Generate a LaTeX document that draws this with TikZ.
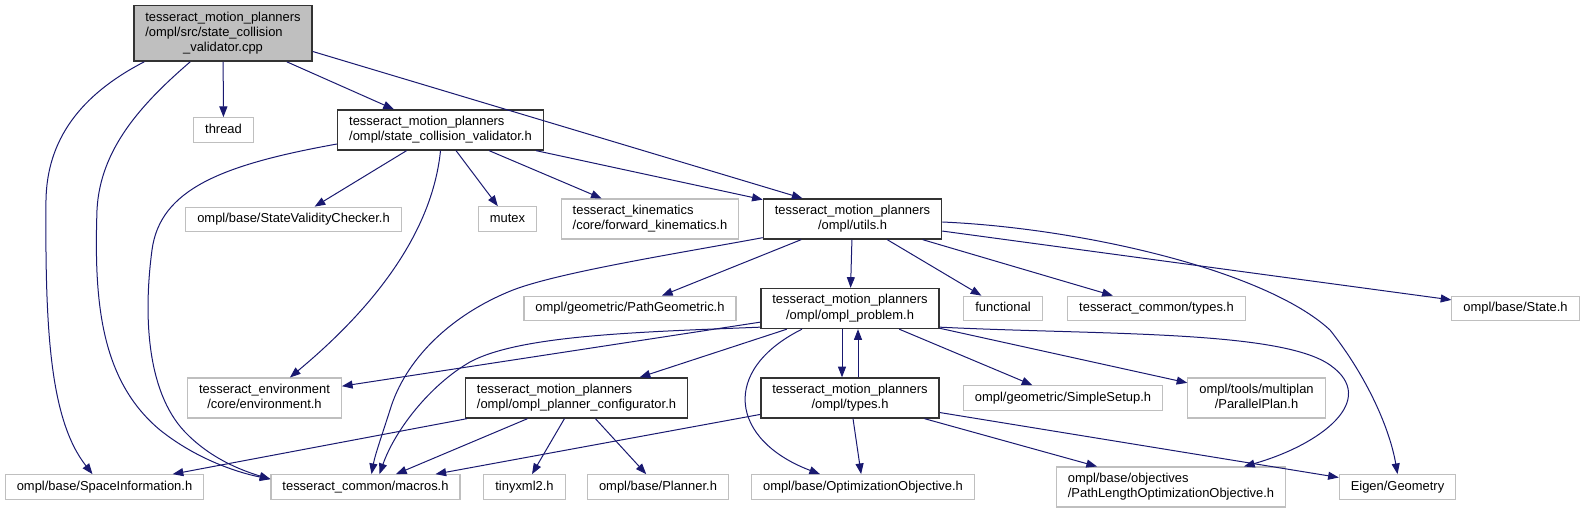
\documentclass[tikz,border=0pt]{standalone}
\usepackage{fontspec}
\setmainfont{Liberation Sans}
\usetikzlibrary{calc, arrows.meta}
\definecolor{edgeBlue}{HTML}{191970}
\definecolor{boxGrey}{HTML}{BFBFBF}
\newcommand{\twol}[2]{\begin{tabular}{@{}l@{}}#1\\\multicolumn{1}{@{}c@{}}{#2}\end{tabular}}
\newcommand{\threel}[3]{\begin{tabular}{@{}l@{}}#1\\#2\\\multicolumn{1}{@{}c@{}}{#3}\end{tabular}}

\begin{document}
\begin{tikzpicture}[
  x=0.75pt, y=-0.75pt,
  font=\fontsize{9.7pt}{11.5pt}\selectfont,
  sysfile/.style={draw=boxGrey, line width=0.8pt, fill=white, inner xsep=8.6pt, inner ysep=3.5pt},
  docfile/.style={sysfile, draw=black!80, line width=1pt},
  one/.style={text height=8.05pt, text depth=3.45pt},
  dep/.style={edgeBlue, line width=0.75pt, -{Triangle[length=8pt, width=6pt]}},
]
\useasboundingbox (0,0) rectangle (1584,513);

% --- Files, one row per rank --------------------------------------
\node[docfile, fill=boxGrey] (root) at (223,33.5) {\threel{tesseract\_motion\_planners}{/ompl/src/state\_collision}{\_validator.cpp}};

\node[sysfile, one] (thread) at (223.5,130) {thread};
\node[docfile] (scvh) at (440.5,130) {\twol{tesseract\_motion\_planners}{/ompl/state\_collision\_validator.h}};

\node[sysfile, one] (svc) at (293.5,219.5) {ompl/base/StateValidityChecker.h};
\node[sysfile, one] (mutex) at (507.5,219) {mutex};
\node[sysfile] (kin) at (650,219) {\twol{tesseract\_kinematics}{/core/forward\_kinematics.h}};
\node[docfile] (utils) at (852.5,219) {\twol{tesseract\_motion\_planners}{/ompl/utils.h}};

\node[sysfile, one] (pathgeo) at (630,308.5) {ompl/geometric/PathGeometric.h};
\node[docfile] (problem) at (850,308.5) {\twol{tesseract\_motion\_planners}{/ompl/ompl\_problem.h}};
\node[sysfile, one] (functional) at (1003,308.5) {functional};
\node[sysfile, one] (ctypes) at (1156.5,308.5) {tesseract\_common/types.h};
\node[sysfile, one] (state) at (1515.5,308.5) {ompl/base/State.h};

\node[sysfile] (env) at (264.5,398) {\twol{tesseract\_environment}{/core/environment.h}};
\node[docfile] (config) at (576.5,398) {\twol{tesseract\_motion\_planners}{/ompl/ompl\_planner\_configurator.h}};
\node[docfile] (otypes) at (850,398) {\twol{tesseract\_motion\_planners}{/ompl/types.h}};
\node[sysfile, one] (simple) at (1063,398) {ompl/geometric/SimpleSetup.h};
\node[sysfile] (parallel) at (1256.5,398) {\twol{ompl/tools/multiplan}{/ParallelPlan.h}};

\node[sysfile, one] (sinfo) at (104.5,487) {ompl/base/SpaceInformation.h};
\node[sysfile, one] (macros) at (365.5,487) {tesseract\_common/macros.h};
\node[sysfile, one] (tiny) at (524.5,487) {tinyxml2.h};
\node[sysfile, one] (planner) at (658,487) {ompl/base/Planner.h};
\node[sysfile, one] (optobj) at (863,487) {ompl/base/OptimizationObjective.h};
\node[sysfile] (pathlen) at (1171,487) {\twol{ompl/base/objectives}{/PathLengthOptimizationObjective.h}};
\node[sysfile, one] (eigen) at (1397.5,487) {Eigen/Geometry};

% --- Includes of the .cpp ------------------------------------------
\draw[dep] ($(root.south west)+(11,0)$) .. controls (80,95) and (47,140) .. (46,200) .. controls (45,330) and (50,420) .. ($(sinfo.north)+(-12,0)$);
\draw[dep] ($(root.south west)+(57,0)$) .. controls (140,105) and (100,150) .. (97,210) .. controls (94,300) and (100,380) .. (160,430) .. controls (195,458) and (235,472) .. ($(macros.north west)+(0,5)$);
\draw[dep] (root) -- (thread);
\draw[dep] (root) -- (scvh);
\draw[dep] ($(root.east)+(0,18)$) -- ($(utils.north)+(-50,0)$);

% --- state_collision_validator.h -----------------------------------
\draw[dep] ($(scvh.west)+(0,14)$) .. controls (220,165) and (160,190) .. (152,250) .. controls (144,310) and (145,390) .. (185,432) .. controls (210,458) and (240,470) .. ($(macros.north west)+(0,5)$);
\draw[dep] (scvh) -- (svc);
\draw[dep] (scvh.south) .. controls (434,215) and (395,290) .. ($(env.north east)+(-52,0)$);
\draw[dep] (scvh) -- (mutex);
\draw[dep] (scvh) -- (kin);
\draw[dep] (scvh) -- (utils);

% --- utils.h -------------------------------------------------------
\draw[dep] ($(utils.south west)+(0,-2)$) .. controls (680,253) and (560,272) .. (513,290) .. controls (450,315) and (405,360) .. (390,410) .. controls (382,435) and (375,455) .. ($(macros.north)+(6,0)$);
\draw[dep] (utils) -- (pathgeo);
\draw[dep] (utils) -- (problem);
\draw[dep] (utils) -- (functional);
\draw[dep] (utils) -- (ctypes);
\draw[dep] (utils) -- (state);
\draw[dep] ($(utils.east)+(0,3)$) .. controls (1080,228) and (1265,270) .. (1330,330) .. controls (1368,378) and (1390,430) .. (eigen.north);

% --- ompl_problem.h ------------------------------------------------
\draw[dep] (problem) -- (env);
\draw[dep] ($(problem.south west)+(0,-2)$) .. controls (640,332) and (520,335) .. (470,362) .. controls (430,385) and (395,430) .. ($(macros.north)+(14,0)$);
\draw[dep] (problem) -- (config);
\draw[dep] ($(problem.south)+(-48,0)$) .. controls (720,370) and (730,440) .. ($(optobj.north)+(-43,0)$);
\draw[dep] ($(problem.south)+(-8,0)$) -- ($(otypes.north)+(-8,0)$);
\draw[dep] (problem) -- (simple);
\draw[dep] (problem) -- (parallel);
\draw[dep] ($(problem.south east)+(0,-2)$) .. controls (1100,335) and (1280,330) .. (1330,365) .. controls (1380,400) and (1320,445) .. ($(pathlen.north)+(73,0)$);

% --- ompl_planner_configurator.h -----------------------------------
\draw[dep] (config) -- (sinfo);
\draw[dep] (config) -- (macros);
\draw[dep] (config) -- (tiny);
\draw[dep] (config) -- (planner);

% --- types.h -------------------------------------------------------
\draw[dep] ($(otypes.north)+(8,0)$) -- ($(problem.south)+(8,0)$);
\draw[dep] (otypes) -- (macros);
\draw[dep] (otypes) -- (optobj);
\draw[dep] (otypes) -- (pathlen);
\draw[dep] (otypes) -- (eigen);
\end{tikzpicture}
\end{document}
